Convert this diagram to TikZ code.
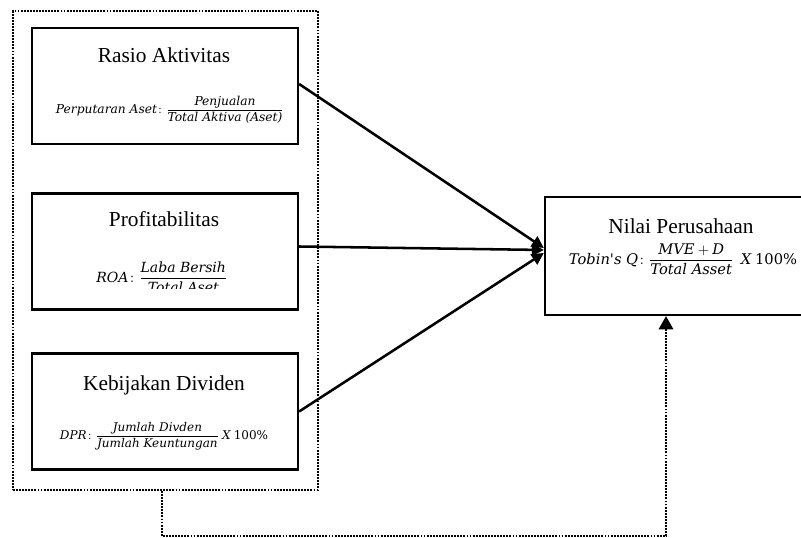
\documentclass[tikz,border=0pt]{standalone}
\usepackage{amsmath}
\usepackage{fontspec}
\setmainfont{Liberation Serif}
\newfontfamily\frmfont{DejaVu Serif}
\usetikzlibrary{arrows.meta,positioning,calc}

% italic words inside the formulas
\newcommand{\fv}[1]{\mbox{\frmfont\itshape #1}}

\begin{document}
\begin{tikzpicture}[x=0.75pt,y=-0.75pt,
    varbox/.style={draw,line width=1.7pt,minimum width=199.5pt,minimum height=87pt,inner sep=0pt},
    vartitle/.style={anchor=base,inner sep=0pt,font=\fontsize{16}{18}\selectfont},
    formula/.style={inner sep=0pt,font=\fontsize{9.2}{11}\selectfont},
    link/.style={line width=1.9pt,-{Triangle[length=9pt,width=9pt]}},
    dotline/.style={line width=1.4pt,dash pattern=on 1.4pt off 0.9pt}]

  \useasboundingbox (0,0) rectangle (801,538);

  % Group of independent variables
  \node[draw,dotline,minimum width=228.75pt,minimum height=359.25pt] (grp) at (165.5,250.5) {};

  % Variable boxes
  \node[varbox] (rasio) at (165,86) {};
  \node[varbox] (profit) at (165,251.5) {};
  \node[varbox] (divid) at (165,411.5) {};
  \node[varbox,minimum height=88.5pt] (nilai) at (678,256) {};

  % Titles
  \node[vartitle] (rasio-t) at (164,63) {Rasio Aktivitas};
  \node[vartitle] (profit-t) at (164,227) {Profitabilitas};
  \node[vartitle] (divid-t) at (164,391) {Kebijakan Dividen};
  \node[vartitle] (nilai-t) at (681,234) {Nilai Perusahaan};

  % Formulas
  \node[formula] (rasio-f) at (170,110)
    {$\fv{Perputaran Aset}\colon \dfrac{\fv{Penjualan}}{\fv{Total Aktiva (Aset)}}$};
  \begin{scope}
    \clip (32,193) rectangle (298,289);
    \node[formula,font=\fontsize{10.5}{12}\selectfont] (profit-f) at (162,277)
      {$\fv{ROA}\colon \dfrac{\fv{Laba Bersih}}{\fv{Total Aset}}$};
  \end{scope}
  \node[formula,font=\fontsize{9}{11}\selectfont] (divid-f) at (164,436)
    {$\fv{DPR}\colon \dfrac{\fv{Jumlah Divden}}{\fv{Jumlah Keuntungan}}\ \fv{X}\ \mbox{\frmfont 100\%}$};
  \node[formula,font=\fontsize{11}{13}\selectfont] (nilai-f) at (683,259)
    {$\fv{Tobin's Q}\colon \dfrac{\fv{MVE} + \fv{D}}{\fv{Total Asset}}\ \ \fv{X}\ \mbox{\frmfont 100\%}$};

  % Arrows to Nilai Perusahaan
  \draw[link] ($(rasio.east)+(0,-2)$) -- ($(nilai.west)+(0,-8)$);
  \draw[link] ($(profit.east)+(0,-5)$) -- ($(nilai.west)+(0,-6)$);
  \draw[link] (divid.east) -- ($(nilai.west)+(0,-3)$);

  % Dotted link from the group
  \coordinate (elb1) at (162,536);
  \coordinate (elb2) at (666,536);
  \draw[dotline,-{Triangle[length=10pt,width=11pt]}]
    (grp.south -| elb1) -- (elb1) -- (elb2) -- (nilai.south -| elb2);
\end{tikzpicture}
\end{document}
